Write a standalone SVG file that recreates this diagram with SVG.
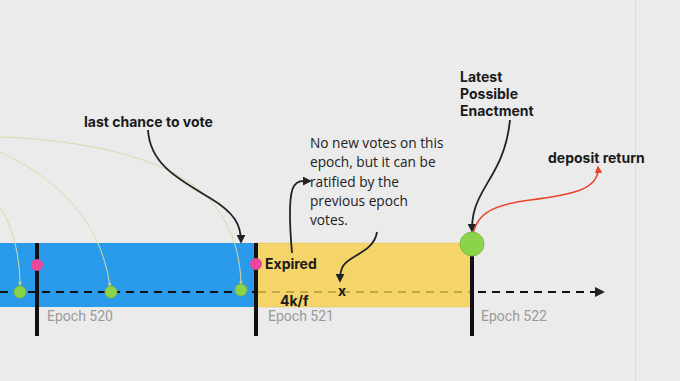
<svg xmlns="http://www.w3.org/2000/svg" width="680" height="381" viewBox="0 0 680 381">
<defs>
<style>
.bold{font-family:Inter,"Liberation Sans",sans-serif;font-weight:700;font-size:14px;fill:#1a1a1a}
.note{font-family:"Open Sans","Liberation Sans",sans-serif;font-size:13.7px;fill:#222}
.epoch{font-family:Roboto,"Liberation Sans",sans-serif;font-size:14px;fill:#9a9a9a}
.arc{fill:none;stroke:#d9dca8;stroke-width:1}
.blk{fill:none;stroke:#222;stroke-width:1.8}
.bar{stroke:#111;stroke-width:4}
.dash{stroke:#111;stroke-width:2;stroke-dasharray:8 6;fill:none}
.pink{fill:#e8479b}
.green{fill:#8bd34a;stroke:#7dbb44;stroke-width:1}
</style>
<marker id="ah" viewBox="0 0 10 10" refX="8" refY="5" markerWidth="5" markerHeight="5" orient="auto-start-reverse">
<path d="M0,0 L10,5 L0,10 z" fill="#222"/>
</marker>
<marker id="ahr" viewBox="0 0 10 10" refX="8" refY="5" markerWidth="5" markerHeight="5" orient="auto">
<path d="M0,0 L10,5 L0,10 z" fill="#e8442a"/>
</marker>
<marker id="ahs" viewBox="0 0 10 10" refX="8" refY="5" markerWidth="4" markerHeight="4" orient="auto">
<path d="M0,0 L10,5 L0,10 z" fill="#c8d48a"/>
</marker>
</defs>
<rect width="680" height="381" fill="#ebebeb"/>
<line x1="635.5" y1="0" x2="635.5" y2="381" stroke="#dcdcdc" stroke-width="1"/>

<g id="epoch-520">
<rect x="0" y="243" width="256" height="64" fill="#2a9aeb"/>
<text class="epoch" x="47" y="321">Epoch 520</text>
</g>
<g id="epoch-521">
<rect x="256" y="243" width="216" height="64" fill="#f5d469" stroke="#e2c35a" stroke-width="0.5"/>
<text class="epoch" x="268" y="321">Epoch 521</text>
</g>
<g id="epoch-522">
<text class="epoch" x="481" y="321">Epoch 522</text>
</g>

<g id="connectors">
<path class="arc" d="M0,137 C90,140 170,160 205,195 C230,220 240,250 241,284" marker-end="url(#ahs)"/>
<path class="arc" d="M0,152 C50,175 100,215 110,286" marker-end="url(#ahs)"/>
<path class="arc" d="M0,207 C12,225 20,255 20,285" marker-end="url(#ahs)"/>
<line class="dash" x1="0" y1="292" x2="256" y2="292"/>
<line x1="258" y1="292" x2="470" y2="292" stroke="#b8983a" stroke-width="1.5" stroke-dasharray="8 6"/>
<line class="dash" x1="478" y1="292" x2="603" y2="292" marker-end="url(#ah)"/>
<path class="blk" d="M148,130 C150,165 180,180 210,198 C235,213 241,225 241,242" marker-end="url(#ah)"/>
<path class="blk" d="M292,253 C290,230 288,195 294,186 C298,180 303,181 310,181" marker-end="url(#ah)"/>
<path class="blk" d="M377,232 C374,252 350,255 343,266 C340,271 340,276 340,281" marker-end="url(#ah)"/>
<path class="blk" d="M510,120 C505,170 480,185 474,212 C472,220 472,226 472,231" marker-end="url(#ah)"/>
<path d="M472,241 C474,215 490,205 530,200 C570,195 600,190 598,167" fill="none" stroke="#e8442a" stroke-width="1.5" marker-end="url(#ahr)"/>
</g>

<g id="bars">
<line class="bar" x1="37" y1="243" x2="37" y2="336"/>
<line class="bar" x1="256" y1="243" x2="256" y2="336"/>
<line class="bar" x1="472" y1="250" x2="472" y2="336"/>
</g>

<g id="dots">
<circle class="pink" cx="37" cy="265" r="6"/>
<circle class="pink" cx="256" cy="264" r="6"/>
<circle class="green" cx="20" cy="292" r="6"/>
<circle class="green" cx="111" cy="292" r="6"/>
<circle class="green" cx="241" cy="290" r="6"/>
<circle class="green" cx="472" cy="244" r="12"/>
</g>

<g id="labels">
<text class="bold" x="84" y="127">last chance to vote</text>
<text class="bold" x="265" y="269">Expired</text>
<text class="bold" x="280" y="306">4k/f</text>
<text class="bold" x="338" y="296" font-size="12">x</text>
<text class="bold" x="460" y="82">Latest</text>
<text class="bold" x="460" y="99">Possible</text>
<text class="bold" x="460" y="116">Enactment</text>
<text class="bold" x="548" y="163">deposit return</text>
<text class="note" x="310" y="148">No new votes on this</text>
<text class="note" x="310" y="167">epoch, but it can be</text>
<text class="note" x="310" y="187">ratified by the</text>
<text class="note" x="310" y="206">previous epoch</text>
<text class="note" x="310" y="225">votes.</text>
</g>
</svg>
